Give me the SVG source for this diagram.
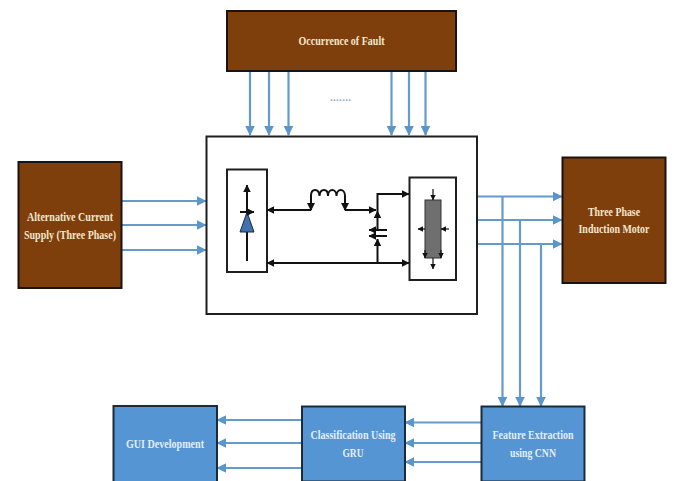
<svg xmlns="http://www.w3.org/2000/svg" width="674" height="481" viewBox="0 0 674 481">
<style>
.brown{fill:#7f3f0c;stroke:#1c1310;stroke-width:2}
.blue{fill:#5595d3;stroke:#1d2a38;stroke-width:2}
.lbl{font-family:"Liberation Serif",serif;font-weight:bold;font-size:12.500px;text-anchor:middle;fill:#f3e6cf}
.lblb{fill:#e4edf6}
.flow{fill:none;stroke:#659bcb;stroke-width:2.200}
.wire{fill:none;stroke:#111;stroke-width:2}
.thin{fill:none;stroke:#111;stroke-width:1.200}
.sq{fill:#fff;stroke:#1f1f1f;stroke-width:2}
</style>
<defs>
<marker id="ab" viewBox="0 0 8 8" refX="7.500" refY="4" markerWidth="10" markerHeight="10" markerUnits="userSpaceOnUse" orient="auto"><path d="M0 0L8 4L0 8Z" fill="#5b96cb"/></marker>
<marker id="ak" viewBox="0 0 8 8" refX="7.500" refY="4" markerWidth="7.500" markerHeight="7.500" markerUnits="userSpaceOnUse" orient="auto"><path d="M0 0L8 4L0 8Z" fill="#111"/></marker>
<marker id="as" viewBox="0 0 8 8" refX="0.500" refY="4" markerWidth="7.500" markerHeight="7.500" markerUnits="userSpaceOnUse" orient="auto"><path d="M8 0L0 4L8 8Z" fill="#111"/></marker>
<marker id="at" viewBox="0 0 8 8" refX="7.500" refY="4" markerWidth="5.500" markerHeight="5.500" markerUnits="userSpaceOnUse" orient="auto"><path d="M0 0L8 4L0 8Z" fill="#111"/></marker>
</defs>
<rect width="674" height="481" fill="#fff"/>
<g id="connectors">
<path class="flow" marker-end="url(#ab)" d="M250 71V135"/>
<path class="flow" marker-end="url(#ab)" d="M269 71V135"/>
<path class="flow" marker-end="url(#ab)" d="M288.500 71V135"/>
<path class="flow" marker-end="url(#ab)" d="M391.500 71V135"/>
<path class="flow" marker-end="url(#ab)" d="M409 71V135"/>
<path class="flow" marker-end="url(#ab)" d="M425.500 71V135"/>
<path class="flow" marker-end="url(#ab)" d="M121 201H206"/>
<path class="flow" marker-end="url(#ab)" d="M121 225H206"/>
<path class="flow" marker-end="url(#ab)" d="M121 250H206"/>
<path class="flow" marker-end="url(#ab)" d="M477 196.500H562"/>
<path class="flow" marker-end="url(#ab)" d="M477 220H562"/>
<path class="flow" marker-end="url(#ab)" d="M477 244H562"/>
<path class="flow" marker-end="url(#ab)" d="M502.500 196.500V406"/>
<path class="flow" marker-end="url(#ab)" d="M520 220V406"/>
<path class="flow" marker-end="url(#ab)" d="M541 244V406"/>
<path class="flow" marker-end="url(#ab)" d="M481 422.500H405"/>
<path class="flow" marker-end="url(#ab)" d="M481 443H405"/>
<path class="flow" marker-end="url(#ab)" d="M481 462H405"/>
<path class="flow" marker-end="url(#ab)" d="M302 420H217"/>
<path class="flow" marker-end="url(#ab)" d="M302 443H217"/>
<path class="flow" marker-end="url(#ab)" d="M302 468H217"/>
</g>
<g id="fault"><rect class="brown" x="227" y="11" width="229" height="60"/><text class="lbl" x="341.500" y="45" textLength="86" lengthAdjust="spacingAndGlyphs">Occurrence of Fault</text></g>
<text id="dots" x="340.500" y="101" font-family="Liberation Sans,sans-serif" font-size="10" font-weight="bold" text-anchor="middle" fill="#8aa9c4" textLength="21">.......</text>
<g id="supply"><rect class="brown" x="18.500" y="162" width="103" height="126"/><text class="lbl" x="70" y="221" textLength="86" lengthAdjust="spacingAndGlyphs">Alternative Current</text><text class="lbl" x="70" y="239" textLength="92" lengthAdjust="spacingAndGlyphs">Supply (Three Phase)</text></g>
<g id="motor"><rect class="brown" x="562.500" y="157.500" width="103" height="125.500"/><text class="lbl" x="614" y="216" textLength="52" lengthAdjust="spacingAndGlyphs">Three Phase</text><text class="lbl" x="614" y="233" textLength="71" lengthAdjust="spacingAndGlyphs">Induction Motor</text></g>
<g id="gui"><rect class="blue" x="113.500" y="406" width="103.500" height="76"/><text class="lbl lblb" x="165" y="448" textLength="78" lengthAdjust="spacingAndGlyphs">GUI Development</text></g>
<g id="gru"><rect class="blue" x="302" y="406.500" width="103" height="75"/><text class="lbl lblb" x="353" y="439" textLength="85" lengthAdjust="spacingAndGlyphs">Classification Using</text><text class="lbl lblb" x="353" y="457" textLength="21" lengthAdjust="spacingAndGlyphs">GRU</text></g>
<g id="cnn"><rect class="blue" x="481.500" y="406.500" width="103" height="75"/><text class="lbl lblb" x="533" y="439" textLength="81" lengthAdjust="spacingAndGlyphs">Feature Extraction</text><text class="lbl lblb" x="533" y="457" textLength="46" lengthAdjust="spacingAndGlyphs">using CNN</text></g>
<g id="converter">
<rect class="sq" x="206.500" y="136.500" width="270.500" height="177.500"/>
<g id="rectifier">
<rect class="sq" x="227" y="169.500" width="40" height="102.500"/>
<path class="wire" marker-end="url(#ak)" d="M247 261V185"/>
<path d="M240 232L247 212L254 232Z" fill="#3f73ae" stroke="#1a2a3a" stroke-width="1"/>
<path class="wire" marker-end="url(#ak)" d="M240 212H254"/>
</g>
<g id="circuit">
<path class="wire" marker-start="url(#as)" d="M267 210H311"/>
<path class="wire" d="M311 210V196C311 188 319 188 319.500 196C320 188 328 188 328 196C328 188 336.500 188 336.500 196C336.500 188 345 188 345 196V210"/>
<path d="M307 203H315L311 211ZM341 203H349L345 211Z" fill="#111"/>
<path class="wire" marker-end="url(#ak)" d="M345 210H376"/>
<path class="wire" marker-end="url(#ak)" d="M377.500 211V194H409"/>
<path class="wire" marker-start="url(#as)" marker-end="url(#ak)" d="M267 263H409"/>
<path class="wire" marker-end="url(#ak)" d="M377.500 230V211"/>
<path class="wire" marker-end="url(#ak)" d="M377.500 263V239"/>
<path class="wire" marker-end="url(#ak)" d="M387 230H369"/>
<path class="wire" marker-end="url(#ak)" d="M387 236H369"/>
</g>
<g id="switch">
<rect class="sq" x="409.500" y="177.500" width="46.500" height="102.500"/>
<rect x="425" y="200" width="16" height="58" fill="#6f6f6f" stroke="#333" stroke-width="1"/>
<path class="thin" marker-end="url(#at)" d="M433 189V200"/>
<path class="thin" marker-end="url(#at)" d="M433 258V269"/>
<path class="thin" marker-end="url(#at)" d="M425 229H418"/>
<path class="thin" marker-end="url(#at)" d="M449 229H441"/>
<path class="thin" marker-end="url(#at)" d="M425 250V258"/>
<path class="thin" marker-end="url(#at)" d="M441 250V258"/>
</g>
</g>
</svg>
